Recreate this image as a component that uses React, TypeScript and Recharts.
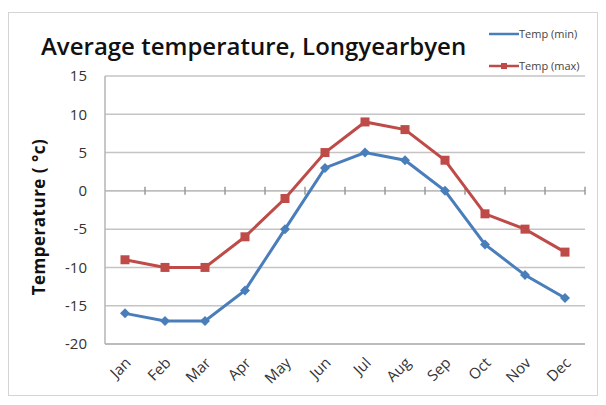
import { LineChart, Line, XAxis, YAxis, CartesianGrid, ReferenceLine } from "recharts";

const months = ["Jan", "Feb", "Mar", "Apr", "May", "Jun", "Jul", "Aug", "Sep", "Oct", "Nov", "Dec"];
const tempMin = [-16, -17, -17, -13, -5, 3, 5, 4, 0, -7, -11, -14];
const tempMax = [-9, -10, -10, -6, -1, 5, 9, 8, 4, -3, -5, -8];
const yTicks = [-20, -15, -10, -5, 0, 5, 10, 15];

const data = months.map((m, i) => ({ month: m, min: tempMin[i], max: tempMax[i] }));

const BLUE = "#4a7ebb";
const RED = "#be4b48";
const FONT = "'Open Sans', sans-serif";

const Diamond = (props: any) => {
  const { cx, cy } = props;
  if (cx == null || cy == null) return null;
  const r = 5;
  return <polygon points={`${cx},${cy - r} ${cx + r},${cy} ${cx},${cy + r} ${cx - r},${cy}`} fill={BLUE} />;
};

const Square = (props: any) => {
  const { cx, cy } = props;
  if (cx == null || cy == null) return null;
  return <rect x={cx - 4.5} y={cy - 4.5} width={9} height={9} fill={RED} />;
};

const MonthTick = (props: any) => {
  const { x, y, payload } = props;
  return (
    <text
      x={x + 4}
      y={y}
      transform={`rotate(-45 ${x + 4} ${y})`}
      textAnchor="end"
      dominantBaseline="middle"
      fontSize={15}
      fontFamily={FONT}
      fill="#333"
    >
      {payload.value}
    </text>
  );
};

// small tick marks along the zero line, between categories
const ZeroTicks = (props: any) => {
  const { x1, x2, y1 } = props;
  if (x1 == null) return null;
  const step = (x2 - x1) / months.length;
  return (
    <g>
      <line x1={x1} x2={x2} y1={y1} y2={y1} stroke="#bdbdbd" strokeWidth={1.5} />
      {months.map((_, i) => (
        <line key={i} x1={x1 + step * (i + 1)} x2={x1 + step * (i + 1)} y1={y1 - 4} y2={y1 + 4} stroke="#9a9a9a" strokeWidth={1.5} />
      ))}
    </g>
  );
};

const LegendBox = () => (
  <div
    style={{
      position: "absolute",
      left: 480,
      top: 14,
      fontFamily: FONT,
      fontSize: 11,
      color: "#444",
      lineHeight: "14px",
    }}
  >
    <div style={{ display: "flex", alignItems: "center", height: 14 }}>
      <svg width={30} height={10}>
        <line x1={0} x2={30} y1={5} y2={5} stroke={BLUE} strokeWidth={2.5} />
      </svg>
      <span>Temp (min)</span>
    </div>
    <div style={{ display: "flex", alignItems: "center", height: 14, marginTop: 18 }}>
      <svg width={30} height={10}>
        <line x1={0} x2={30} y1={5} y2={5} stroke={RED} strokeWidth={2.5} />
        <rect x={12} y={2} width={6} height={6} fill={RED} />
      </svg>
      <span>Temp (max)</span>
    </div>
  </div>
);

export default function App() {
  return (
    <div style={{ paddingTop: 4 }}>
      <div
        style={{
          position: "relative",
          width: 590,
          height: 384,
          border: "1px solid #d4d4d4",
          background: "#fff",
          boxSizing: "border-box",
        }}
      >
        <div
          style={{
            position: "absolute",
            left: 32,
            top: 16,
            fontFamily: FONT,
            fontSize: 24,
            fontWeight: 600,
            color: "#111",
            whiteSpace: "nowrap",
          }}
        >
          Average temperature, Longyearbyen
        </div>
        <div
          style={{
            position: "absolute",
            left: 29,
            top: 204,
            transform: "translate(-50%, -50%) rotate(-90deg)",
            fontFamily: FONT,
            fontSize: 17,
            fontWeight: 700,
            letterSpacing: 0.5,
            color: "#111",
            whiteSpace: "nowrap",
          }}
        >
          Temperature ( °c)
        </div>
        <LegendBox />
        <LineChart width={588} height={382} data={data} margin={{ top: 63, right: 12, bottom: 11, left: 36 }}>
          <CartesianGrid vertical={false} stroke="#c4c4c4" strokeWidth={1.5} />
          <XAxis
            dataKey="month"
            height={40}
            tick={<MonthTick />}
            tickLine={false}
            axisLine={{ stroke: "#b5b5b5", strokeWidth: 1.5 }}
            interval={0}
            padding={{ left: 20, right: 20 }}
            tickMargin={17}
            tickSize={0}
          />
          <YAxis
            width={60}
            domain={[-20, 15]}
            ticks={yTicks}
            tickLine={false}
            axisLine={{ stroke: "#b5b5b5", strokeWidth: 1.5 }}
            tickSize={0}
            tickMargin={18}
            tick={{ fontSize: 15, fontFamily: FONT, fill: "#333" }}
          />
          <ReferenceLine y={0} shape={<ZeroTicks />} />
          <Line
            type="linear"
            dataKey="min"
            name="Temp (min)"
            stroke={BLUE}
            strokeWidth={3}
            dot={<Diamond />}
            activeDot={false}
            isAnimationActive={false}
          />
          <Line
            type="linear"
            dataKey="max"
            name="Temp (max)"
            stroke={RED}
            strokeWidth={3}
            dot={<Square />}
            activeDot={false}
            isAnimationActive={false}
          />
        </LineChart>
      </div>
    </div>
  );
}
